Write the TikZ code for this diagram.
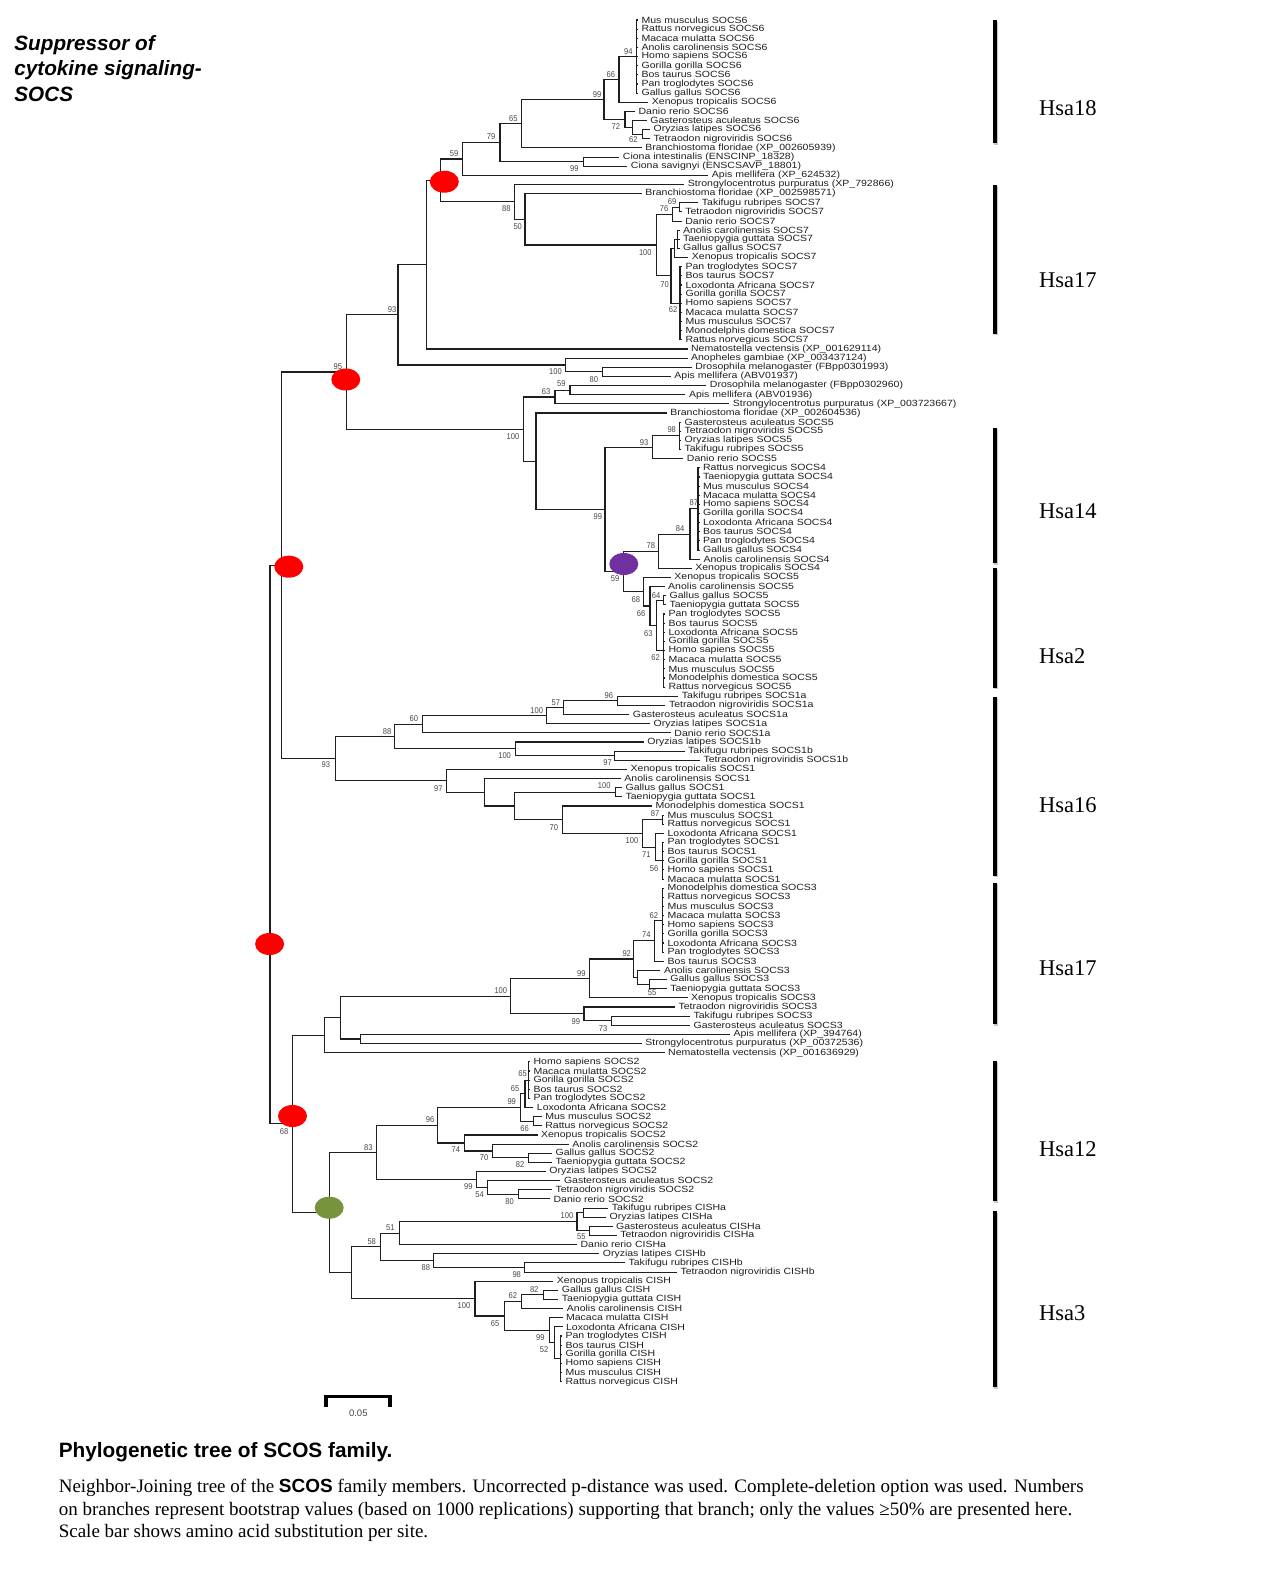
\documentclass[tikz,border=0pt]{standalone}
\usepackage{fontspec}
\setmainfont{Liberation Serif}
\newfontfamily\leaffont[FakeStretch=1.17]{Liberation Sans}
\newfontfamily\bsfont[FakeStretch=0.9]{Liberation Sans}
\newfontfamily\headfont{Liberation Sans}
\usetikzlibrary{calc,shapes.geometric}

% leaf: index, x of branch end, label
\newcommand\lv[3]{\node[leaf] (L#1) at (#2,{20+(#1-1)*9.139}) {#3};}
% internal node: name, x, first child, last child (y = midpoint)
\newcommand\nd[4]{\path let \p1=($(#3)!.5!(#4)$) in coordinate (#1) at (#2pt,\y1);}
% elbow connectors from a node to children
\newcommand\br[2]{\foreach \kid in {#2}{\draw[branch] (#1) |- (\kid);}}
\newcommand\brr[3]{\foreach \i in {#2,...,#3}{\draw[branch] (#1) |- (L\i.west);}}
% bootstrap value
\newcommand\bv[4]{\node[bs] (#1) at (#2,#3) {#4};}
% chromosome bar with a faint shadow
\newcommand\chr[3]{\draw[chrshadow] (996.2,#2+1.5) -- (996.2,#3+1.5); \draw[chrbar] (994.8,#2) coordinate (#1a) -- (994.8,#3) coordinate (#1b);}

\begin{document}
\begin{tikzpicture}[x=1pt,y=-1pt,
  leaf/.style={anchor=west,inner xsep=3.4pt,inner ysep=0pt,
    font=\leaffont\fontsize{9}{9}\selectfont,text=black!88},
  bs/.style={inner sep=0pt,font=\bsfont\fontsize{8.4}{9}\selectfont,text=black!72},
  branch/.style={line width=1.1pt,black!88},
  nodemark/.style={ellipse,draw=none,inner sep=0pt,minimum width=29pt,minimum height=22pt},
  chrbar/.style={line width=4.3pt,black},
  chrshadow/.style={line width=4.3pt,black!22},
  hsa/.style={anchor=west,inner sep=0pt,font=\fontsize{22.5}{24}\selectfont},
  ttl/.style={anchor=west,inner sep=0pt,font=\headfont\bfseries\itshape\fontsize{20.7}{24}\selectfont},
  capline/.style={anchor=west,inner sep=0pt,font=\fontsize{19}{22}\selectfont}]

\definecolor{purplemark}{HTML}{7030A0}
\definecolor{greenmark}{HTML}{77933C}

\fill[white] (0,0) rectangle (1262,1586);
\useasboundingbox (0,0) rectangle (1262,1586);

% ---------------- leaves ----------------
\lv{1}{638}{Mus musculus SOCS6}
\lv{2}{638}{Rattus norvegicus SOCS6}
\lv{3}{638}{Macaca mulatta SOCS6}
\lv{4}{638}{Anolis carolinensis SOCS6}
\lv{5}{638}{Homo sapiens SOCS6}
\lv{6}{638}{Gorilla gorilla SOCS6}
\lv{7}{638}{Bos taurus SOCS6}
\lv{8}{638}{Pan troglodytes SOCS6}
\lv{9}{638}{Gallus gallus SOCS6}
\lv{10}{648.3}{Xenopus tropicalis SOCS6}
\lv{11}{635}{Danio rerio SOCS6}
\lv{12}{646.7}{Gasterosteus aculeatus SOCS6}
\lv{13}{650}{Oryzias latipes SOCS6}
\lv{14}{650}{Tetraodon nigroviridis SOCS6}
\lv{15}{641.7}{Branchiostoma floridae (XP\_002605939)}
\lv{16}{619.3}{Ciona intestinalis (ENSCINP\_18328)}
\lv{17}{627.3}{Ciona savignyi (ENSCSAVP\_18801)}
\lv{18}{708.3}{Apis mellifera (XP\_624532)}
\lv{19}{684.3}{Strongylocentrotus purpuratus (XP\_792866)}
\lv{20}{641.7}{Branchiostoma floridae (XP\_002598571)}
\lv{21}{698.3}{Takifugu rubripes SOCS7}
\lv{22}{681.7}{Tetraodon nigroviridis SOCS7}
\lv{23}{681.7}{Danio rerio SOCS7}
\lv{24}{679.5}{Anolis carolinensis SOCS7}
\lv{25}{679.5}{Taeniopygia guttata SOCS7}
\lv{26}{679.5}{Gallus gallus SOCS7}
\lv{27}{688.3}{Xenopus tropicalis SOCS7}
\lv{28}{682}{Pan troglodytes SOCS7}
\lv{29}{682}{Bos taurus SOCS7}
\lv{30}{682}{Loxodonta Africana SOCS7}
\lv{31}{682}{Gorilla gorilla SOCS7}
\lv{32}{682}{Homo sapiens SOCS7}
\lv{33}{682}{Macaca mulatta SOCS7}
\lv{34}{682}{Mus musculus SOCS7}
\lv{35}{682}{Monodelphis domestica SOCS7}
\lv{36}{682}{Rattus norvegicus SOCS7}
\lv{37}{687.5}{Nematostella vectensis (XP\_001629114)}
\lv{38}{687.5}{Anopheles gambiae (XP\_003437124)}
\lv{39}{691.7}{Drosophila melanogaster (FBpp0301993)}
\lv{40}{670.8}{Apis mellifera (ABV01937)}
\lv{41}{706.3}{Drosophila melanogaster (FBpp0302960)}
\lv{42}{685.4}{Apis mellifera (ABV01936)}
\lv{43}{729.2}{Strongylocentrotus purpuratus (XP\_003723667)}
\lv{44}{666.7}{Branchiostoma floridae (XP\_002604536)}
\lv{45}{681}{Gasterosteus aculeatus SOCS5}
\lv{46}{681}{Tetraodon nigroviridis SOCS5}
\lv{47}{681}{Oryzias latipes SOCS5}
\lv{48}{681}{Takifugu rubripes SOCS5}
\lv{49}{683.3}{Danio rerio SOCS5}
\lv{50}{699.5}{Rattus norvegicus SOCS4}
\lv{51}{699.5}{Taeniopygia guttata SOCS4}
\lv{52}{699.5}{Mus musculus SOCS4}
\lv{53}{699.5}{Macaca mulatta SOCS4}
\lv{54}{699.5}{Homo sapiens SOCS4}
\lv{55}{699.5}{Gorilla gorilla SOCS4}
\lv{56}{699.5}{Loxodonta Africana SOCS4}
\lv{57}{699.5}{Bos taurus SOCS4}
\lv{58}{699.5}{Pan troglodytes SOCS4}
\lv{59}{699.5}{Gallus gallus SOCS4}
\lv{60}{700}{Anolis carolinensis SOCS4}
\lv{61}{691.7}{Xenopus tropicalis SOCS4}
\lv{62}{670.8}{Xenopus tropicalis SOCS5}
\lv{63}{664.6}{Anolis carolinensis SOCS5}
\lv{64}{666}{Gallus gallus SOCS5}
\lv{65}{666}{Taeniopygia guttata SOCS5}
\lv{66}{665}{Pan troglodytes SOCS5}
\lv{67}{665}{Bos taurus SOCS5}
\lv{68}{665}{Loxodonta Africana SOCS5}
\lv{69}{665}{Gorilla gorilla SOCS5}
\lv{70}{665}{Homo sapiens SOCS5}
\lv{71}{665}{Macaca mulatta SOCS5}
\lv{72}{665}{Mus musculus SOCS5}
\lv{73}{665}{Monodelphis domestica SOCS5}
\lv{74}{665}{Rattus norvegicus SOCS5}
\lv{75}{678.3}{Takifugu rubripes SOCS1a}
\lv{76}{665.4}{Tetraodon nigroviridis SOCS1a}
\lv{77}{629.2}{Gasterosteus aculeatus SOCS1a}
\lv{78}{650}{Oryzias latipes SOCS1a}
\lv{79}{670.8}{Danio rerio SOCS1a}
\lv{80}{643.8}{Oryzias latipes SOCS1b}
\lv{81}{684.6}{Takifugu rubripes SOCS1b}
\lv{82}{700}{Tetraodon nigroviridis SOCS1b}
\lv{83}{627.1}{Xenopus tropicalis SOCS1}
\lv{84}{620.8}{Anolis carolinensis SOCS1}
\lv{85}{622}{Gallus gallus SOCS1}
\lv{86}{622}{Taeniopygia guttata SOCS1}
\lv{87}{652}{Monodelphis domestica SOCS1}
\lv{88}{664}{Mus musculus SOCS1}
\lv{89}{664}{Rattus norvegicus SOCS1}
\lv{90}{664}{Loxodonta Africana SOCS1}
\lv{91}{664}{Pan troglodytes SOCS1}
\lv{92}{664}{Bos taurus SOCS1}
\lv{93}{664}{Gorilla gorilla SOCS1}
\lv{94}{664}{Homo sapiens SOCS1}
\lv{95}{664}{Macaca mulatta SOCS1}
\lv{96}{664}{Monodelphis domestica SOCS3}
\lv{97}{664}{Rattus norvegicus SOCS3}
\lv{98}{664}{Mus musculus SOCS3}
\lv{99}{664}{Macaca mulatta SOCS3}
\lv{100}{664}{Homo sapiens SOCS3}
\lv{101}{664}{Gorilla gorilla SOCS3}
\lv{102}{664}{Loxodonta Africana SOCS3}
\lv{103}{664}{Pan troglodytes SOCS3}
\lv{104}{664}{Bos taurus SOCS3}
\lv{105}{660.4}{Anolis carolinensis SOCS3}
\lv{106}{666.7}{Gallus gallus SOCS3}
\lv{107}{666.7}{Taeniopygia guttata SOCS3}
\lv{108}{687.5}{Xenopus tropicalis SOCS3}
\lv{109}{675}{Tetraodon nigroviridis SOCS3}
\lv{110}{690}{Takifugu rubripes SOCS3}
\lv{111}{690}{Gasterosteus aculeatus SOCS3}
\lv{112}{730}{Apis mellifera (XP\_394764)}
\lv{113}{641.7}{Strongylocentrotus purpuratus (XP\_00372536)}
\lv{114}{664.6}{Nematostella vectensis (XP\_001636929)}
\lv{115}{530}{Homo sapiens SOCS2}
\lv{116}{530}{Macaca mulatta SOCS2}
\lv{117}{530}{Gorilla gorilla SOCS2}
\lv{118}{530}{Bos taurus SOCS2}
\lv{119}{530}{Pan troglodytes SOCS2}
\lv{120}{533.3}{Loxodonta Africana SOCS2}
\lv{121}{541.7}{Mus musculus SOCS2}
\lv{122}{541.7}{Rattus norvegicus SOCS2}
\lv{123}{537.5}{Xenopus tropicalis SOCS2}
\lv{124}{568.8}{Anolis carolinensis SOCS2}
\lv{125}{552}{Gallus gallus SOCS2}
\lv{126}{552}{Taeniopygia guttata SOCS2}
\lv{127}{545.8}{Oryzias latipes SOCS2}
\lv{128}{560.4}{Gasterosteus aculeatus SOCS2}
\lv{129}{552}{Tetraodon nigroviridis SOCS2}
\lv{130}{550}{Danio rerio SOCS2}
\lv{131}{608.3}{Takifugu rubripes CISHa}
\lv{132}{606}{Oryzias latipes CISHa}
\lv{133}{612.5}{Gasterosteus aculeatus CISHa}
\lv{134}{616.7}{Tetraodon nigroviridis CISHa}
\lv{135}{577}{Danio rerio CISHa}
\lv{136}{599.2}{Oryzias latipes CISHb}
\lv{137}{625}{Takifugu rubripes CISHb}
\lv{138}{677}{Tetraodon nigroviridis CISHb}
\lv{139}{553.3}{Xenopus tropicalis CISH}
\lv{140}{558.3}{Gallus gallus CISH}
\lv{141}{558.3}{Taeniopygia guttata CISH}
\lv{142}{563.3}{Anolis carolinensis CISH}
\lv{143}{562.5}{Macaca mulatta CISH}
\lv{144}{562.5}{Loxodonta Africana CISH}
\lv{145}{562}{Pan troglodytes CISH}
\lv{146}{562}{Bos taurus CISH}
\lv{147}{562}{Gorilla gorilla CISH}
\lv{148}{562}{Homo sapiens CISH}
\lv{149}{562}{Mus musculus CISH}
\lv{150}{562}{Rattus norvegicus CISH}

% ---------------- internal nodes (children first) ----------------
% SOCS6 / basal deuterostome block
\nd{A94}{636.7}{L1}{L9}      \brr{A94}{1}{9}
\nd{N66}{619}{A94}{L10}      \br{N66}{A94,L10.west}
\nd{N6b}{642.3}{L13}{L14}    \br{N6b}{L13.west,L14.west}
\nd{N62a}{632.3}{L12}{N6b}   \br{N62a}{L12.west,N6b}
\nd{N72}{625}{L11}{N62a}     \br{N72}{L11.west,N62a}
\nd{N99}{604}{N66}{N72}      \br{N99}{N66,N72}
\nd{N65}{521.7}{N99}{L15}    \br{N65}{N99,L15.west}
\nd{Ncio}{583.3}{L16}{L17}   \br{Ncio}{L16.west,L17.west}
\nd{N79}{500}{N65}{Ncio}     \br{N79}{N65,Ncio}
\nd{N59}{462.7}{N79}{L18}    \br{N59}{N79,L18.west}
% SOCS7 block
\nd{N69}{679.3}{L21}{L22}    \br{N69}{L21.west,L22.west}
\nd{N76}{672.7}{N69}{L23}    \br{N76}{N69,L23.west}
\nd{NATG}{677.5}{L24}{L26}   \brr{NATG}{24}{26}
\nd{NA}{674.5}{NATG}{L27}    \br{NA}{NATG,L27.west}
\nd{NM}{680}{L28}{L36}       \brr{NM}{28}{36}
\nd{NT}{671}{NA}{NM}         \br{NT}{NA,NM}
\nd{N100s}{656.5}{N76}{NT}   \br{N100s}{N76,NT}
\nd{N50}{525}{L20}{N100s}    \br{N50}{L20.west,N100s}
\nd{N88}{514.3}{L19}{N50}    \br{N88}{L19.west,N50}
\nd{Nr1}{440.7}{N59}{N88}    \br{Nr1}{N59,N88}
\nd{Nnem}{426.5}{Nr1}{L37}   \br{Nnem}{Nr1,L37.west}
\nd{N80}{602.1}{L39}{L40}    \br{N80}{L39.west,L40.west}
\nd{N100a}{565.4}{L38}{N80}  \br{N100a}{L38.west,N80}
\nd{N93}{398}{Nnem}{N100a}   \br{N93}{Nnem,N100a}
% SOCS4 / SOCS5 block
\nd{N59b}{570}{L41}{L42}     \br{N59b}{L41.west,L42.west}
\nd{N63}{555}{N59b}{L43}     \br{N63}{N59b,L43.west}
\nd{N98}{679.2}{L45}{L48}    \brr{N98}{45}{48}
\nd{N93b}{652.5}{N98}{L49}   \br{N93b}{N98,L49.west}
\nd{N87}{698}{L50}{L59}      \brr{N87}{50}{59}
\nd{N84}{690}{N87}{L60}      \br{N84}{N87,L60.west}
\nd{N78}{658.3}{N84}{L61}    \br{N78}{N84,L61.west}
\nd{N64}{663.8}{L64}{L65}    \br{N64}{L64.west,L65.west}
\nd{N62b}{663.8}{L66}{L74}   \brr{N62b}{66}{74}
\nd{N63b}{656.3}{N64}{N62b}  \br{N63b}{N64,N62b}
\nd{N66b}{650}{L63}{N63b}    \br{N66b}{L63.west,N63b}
\nd{N68}{643.8}{L62}{N66b}   \br{N68}{L62.west,N66b}
\nd{Npur}{623.8}{N78}{N68}   \br{Npur}{N78,N68}
\nd{N99c}{605}{N93b}{Npur}   \br{N99c}{N93b,Npur}
\nd{Nbf}{536}{L44}{N99c}     \br{Nbf}{L44.west,N99c}
\nd{N100b}{523.8}{N63}{Nbf}  \br{N100b}{N63,Nbf}
\nd{N95}{346.7}{N93}{N100b}  \br{N95}{N93,N100b}
% SOCS1 block
\nd{N96}{617.5}{L75}{L76}    \br{N96}{L75.west,L76.west}
\nd{N57}{563.3}{N96}{L77}    \br{N57}{N96,L77.west}
\nd{N100c}{546.7}{N57}{L78}  \br{N100c}{N57,L78.west}
\nd{N60}{422.1}{N100c}{L79}  \br{N60}{N100c,L79.west}
\nd{N97}{614.6}{L81}{L82}    \br{N97}{L81.west,L82.west}
\nd{N100d}{515.4}{L80}{N97}  \br{N100d}{L80.west,N97}
\nd{N88b}{394.2}{N60}{N100d} \br{N88b}{N60,N100d}
\nd{N100e}{615.4}{L85}{L86}  \br{N100e}{L85.west,L86.west}
\nd{N87b}{662.5}{L88}{L89}   \br{N87b}{L88.west,L89.west}
\nd{N56}{662.5}{L91}{L95}    \brr{N56}{91}{95}
\nd{N71}{655.4}{L90}{N56}    \br{N71}{L90.west,N56}
\nd{N100f}{642.9}{N87b}{N71} \br{N100f}{N87b,N71}
\nd{N70}{562.5}{L87}{N100f}  \br{N70}{L87.west,N100f}
\nd{Nb1}{514.6}{N100e}{N70}  \br{Nb1}{N100e,N70}
\nd{Na1}{484.6}{L84}{Nb1}    \br{Na1}{L84.west,Nb1}
\nd{N97b}{446.7}{L83}{Na1}   \br{N97b}{L83.west,Na1}
\nd{N93c}{335.4}{N88b}{N97b} \br{N93c}{N88b,N97b}
\nd{Ntop}{281.3}{N95}{N93c}  \br{Ntop}{N95,N93c}
% SOCS3 block
\nd{N62c}{662.5}{L96}{L103}  \brr{N62c}{96}{103}
\nd{N74}{654.2}{N62c}{L104}  \br{N74}{N62c,L104.west}
\nd{Ngt}{649.2}{L106}{L107}  \br{Ngt}{L106.west,L107.west}
\nd{Nag}{637.5}{L105}{Ngt}   \br{Nag}{L105.west,Ngt}
\nd{N92}{633.3}{N74}{Nag}    \br{N92}{N74,Nag}
\nd{N99d}{589.6}{N92}{L108}  \br{N99d}{N92,L108.west}
\nd{N73}{611.7}{L110}{L111}  \br{N73}{L110.west,L111.west}
\nd{N99e}{584}{L109}{N73}    \br{N99e}{L109.west,N73}
\nd{N100g}{510.4}{N99d}{N99e}\br{N100g}{N99d,N99e}
\nd{Nsp}{360.4}{L112}{L113}  \br{Nsp}{L112.west,L113.west}
\nd{Nx1}{340.4}{N100g}{Nsp}  \br{Nx1}{N100g,Nsp}
\nd{Nx2}{324.2}{Nx1}{L114}   \br{Nx2}{Nx1,L114.west}
% SOCS2 block
\nd{N65b}{528.3}{L115}{L119} \brr{N65b}{115}{119}
\nd{N65a}{525}{N65b}{L120}   \br{N65a}{N65b,L120.west}
\nd{N66c}{533.3}{L121}{L122} \br{N66c}{L121.west,L122.west}
\nd{N99f}{520.8}{N65a}{N66c} \br{N99f}{N65a,N66c}
\nd{N82}{528.3}{L125}{L126}  \br{N82}{L125.west,L126.west}
\nd{N70b}{492.9}{L124}{N82}  \br{N70b}{L124.west,N82}
\nd{N74b}{464.6}{L123}{N70b} \br{N74b}{L123.west,N70b}
\nd{N96b}{437.5}{N99f}{N74b} \br{N96b}{N99f,N74b}
\nd{N80b}{518.8}{L129}{L130} \br{N80b}{L129.west,L130.west}
\nd{N54}{487.5}{L128}{N80b}  \br{N54}{L128.west,N80b}
\nd{N99g}{476.3}{L127}{N54}  \br{N99g}{L127.west,N54}
\nd{N83}{376.3}{N96b}{N99g}  \br{N83}{N96b,N99g}
% CISH block
\nd{Nct}{583.3}{L131}{L132}  \br{Nct}{L131.west,L132.west}
\nd{N55c}{589.6}{L133}{L134} \br{N55c}{L133.west,L134.west}
\nd{N100h}{577}{Nct}{N55c}   \br{N100h}{Nct,N55c}
\nd{N51}{399.2}{N100h}{L135} \br{N51}{N100h,L135.west}
\nd{N98b}{524.2}{L137}{L138} \br{N98b}{L137.west,L138.west}
\nd{N88c}{433.3}{L136}{N98b} \br{N88c}{L136.west,N98b}
\nd{N58}{380.4}{N51}{N88c}   \br{N58}{N51,N88c}
\nd{N82b}{543.8}{L140}{L141} \br{N82b}{L140.west,L141.west}
\nd{N62d}{521.7}{N82b}{L142} \br{N62d}{N82b,L142.west}
\nd{Ncm}{560.4}{L145}{L150}  \brr{Ncm}{145}{150}
\nd{N52}{554.2}{L144}{Ncm}   \br{N52}{L144.west,Ncm}
\nd{N99h}{549.2}{L143}{N52}  \br{N99h}{L143.west,N52}
\nd{N65c}{504.2}{N62d}{N99h} \br{N65c}{N62d,N99h}
\nd{N100i}{475}{L139}{N65c}  \br{N100i}{L139.west,N65c}
\nd{Nc1}{351.3}{N58}{N100i}  \br{Nc1}{N58,N100i}
\nd{Ngr}{329.2}{N83}{Nc1}    \br{Ngr}{N83,Nc1}
\nd{Nx3}{292.9}{Nx2}{Ngr}    \br{Nx3}{Nx2,Ngr}
% root
\nd{Root}{270}{Ntop}{Nx3}    \br{Root}{Ntop,Nx3}

% ---------------- marked nodes ----------------
\node[nodemark,fill=red] (m1) at (444.3,181.7) {};
\node[nodemark,fill=red] (m2) at (345.8,379.5) {};
\node[nodemark,fill=red] (m3) at (288.8,566.7) {};
\node[nodemark,fill=red] (m4) at (269.6,944) {};
\node[nodemark,fill=red] (m5) at (292.5,1116) {};
\node[nodemark,fill=purplemark] (m6) at (623.8,564) {};
\node[nodemark,fill=greenmark] (m7) at (329.2,1207.7) {};

% ---------------- bootstrap values ----------------
\bv{b1}{628.3}{51.7}{94}
\bv{b2}{610.8}{74.3}{66}
\bv{b3}{597}{95}{99}
\bv{b4}{513.3}{118.3}{65}
\bv{b5}{615.8}{126.7}{72}
\bv{b6}{491}{136.7}{79}
\bv{b7}{633.3}{140}{62}
\bv{b8}{454}{153.3}{59}
\bv{b9}{574.3}{169}{99}
\bv{b10}{672}{201.7}{69}
\bv{b11}{506.3}{209}{88}
\bv{b12}{664}{209}{76}
\bv{b13}{517.7}{226.7}{50}
\bv{b14}{645.3}{252.3}{100}
\bv{b15}{664.5}{285}{70}
\bv{b16}{392}{310}{93}
\bv{b17}{673}{310}{62}
\bv{b18}{337.9}{366.7}{95}
\bv{b19}{555.4}{371.7}{100}
\bv{b20}{593.8}{379.3}{80}
\bv{b21}{561.3}{384}{59}
\bv{b22}{546}{391.7}{63}
\bv{b23}{671.7}{429.3}{98}
\bv{b24}{513}{436.7}{100}
\bv{b25}{644}{442.3}{93}
\bv{b26}{693.8}{503}{87}
\bv{b27}{597.9}{516.7}{99}
\bv{b28}{680}{528.3}{84}
\bv{b29}{650.8}{546}{78}
\bv{b30}{615}{578.3}{59}
\bv{b31}{656}{596}{64}
\bv{b32}{635.8}{599.3}{68}
\bv{b33}{641}{614}{66}
\bv{b34}{648.3}{634}{63}
\bv{b35}{655.6}{657.7}{62}
\bv{b36}{608.8}{695.7}{96}
\bv{b37}{555.8}{702.7}{57}
\bv{b38}{536.7}{711}{100}
\bv{b39}{413.8}{719}{60}
\bv{b40}{387}{731.7}{88}
\bv{b41}{504.6}{755.7}{100}
\bv{b42}{607.5}{762.7}{97}
\bv{b43}{325.8}{765}{93}
\bv{b44}{604.2}{786}{100}
\bv{b45}{438.3}{788.3}{97}
\bv{b46}{655}{814}{87}
\bv{b47}{553.8}{827.3}{70}
\bv{b48}{632}{840.7}{100}
\bv{b49}{646.3}{855}{71}
\bv{b50}{654}{868.3}{56}
\bv{b51}{653.8}{915.7}{62}
\bv{b52}{646.3}{935}{74}
\bv{b53}{626.7}{953.3}{92}
\bv{b54}{581.3}{973.3}{99}
\bv{b55}{500.8}{991}{100}
\bv{b56}{652}{992.3}{55}
\bv{b57}{575.8}{1021.7}{99}
\bv{b58}{603}{1028.3}{73}
\bv{b59}{522.5}{1074}{65}
\bv{b60}{515}{1088.3}{65}
\bv{b61}{511.7}{1101.7}{99}
\bv{b62}{430}{1120}{96}
\bv{b63}{524.6}{1128.3}{66}
\bv{b64}{284}{1131.7}{68}
\bv{b65}{368.3}{1147.3}{83}
\bv{b66}{455.8}{1150}{74}
\bv{b67}{484}{1157.7}{70}
\bv{b68}{520}{1165}{82}
\bv{b69}{468.3}{1186.7}{99}
\bv{b70}{479.6}{1195}{54}
\bv{b71}{509.6}{1201.7}{80}
\bv{b72}{567}{1216}{100}
\bv{b73}{390.4}{1227.7}{51}
\bv{b74}{581.3}{1236.7}{55}
\bv{b75}{371.7}{1241.7}{58}
\bv{b76}{425.8}{1267.3}{88}
\bv{b77}{516.7}{1275}{98}
\bv{b78}{534.2}{1289.3}{82}
\bv{b79}{512.9}{1296}{62}
\bv{b80}{464}{1305.7}{100}
\bv{b81}{495}{1323.3}{65}
\bv{b82}{540.4}{1337.3}{99}
\bv{b83}{544}{1349.3}{52}

% ---------------- scale bar ----------------
\coordinate (s1) at (325.8,1407);
\coordinate (s2) at (390,1407);
\draw[line width=3.6pt,line join=miter] (s1) -- ++(0,-10.5) -| (s2);
\node[bs,font=\headfont\fontsize{9.5}{10}\selectfont] (sl) at (358.3,1413.5) {0.05};

% ---------------- chromosome bars and labels ----------------
\chr{c1}{20.2}{143.3}
\chr{c2}{185}{333.7}
\chr{c3}{427.7}{563.2}
\chr{c4}{568.3}{687.6}
\chr{c5}{696.7}{875.7}
\chr{c6}{882.8}{1024.3}
\chr{c7}{1060.7}{1201.3}
\chr{c8}{1211.4}{1387.4}
\node[hsa] (h1) at (1039,108.3) {Hsa18};
\node[hsa] (h2) at (1039,280) {Hsa17};
\node[hsa] (h3) at (1039,510.7) {Hsa14};
\node[hsa] (h4) at (1039,656.3) {Hsa2};
\node[hsa] (h5) at (1039,805) {Hsa16};
\node[hsa] (h6) at (1039,967.7) {Hsa17};
\node[hsa] (h7) at (1039,1148.7) {Hsa12};
\node[hsa] (h8) at (1039,1313.6) {Hsa3};

% ---------------- title ----------------
\node[ttl] (t1) at (14.2,45.5) {Suppressor of};
\node[ttl] (t2) at (14.2,69.8) {cytokine signaling-};
\node[ttl] (t3) at (14.2,94) {SOCS};

% ---------------- caption ----------------
\node[anchor=west,inner sep=0pt,font=\headfont\bfseries\fontsize{20.8}{24}\selectfont] (cap) at (58.6,1452) {Phylogenetic tree of SCOS family.};
\node[capline] (cl1) at (58.6,1487.5) {Neighbor-Joining tree of the {\headfont\bfseries SCOS} family members. Uncorrected p-distance was used. Complete-deletion option was used. Numbers};
\node[capline] (cl2) at (58.6,1510.7) {on branches represent bootstrap values (based on 1000 replications) supporting that branch; only the values ≥50\% are presented here.};
\node[capline] (cl3) at (58.6,1533) {Scale bar shows amino acid substitution per site.};
\end{tikzpicture}
\end{document}
